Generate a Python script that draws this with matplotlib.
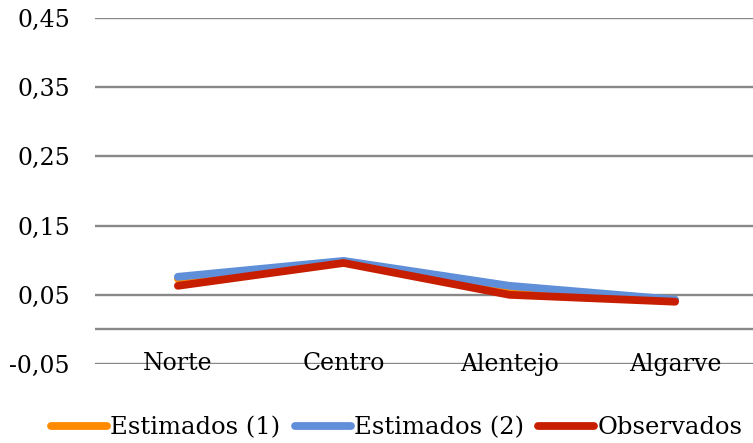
import matplotlib.pyplot as plt
import numpy as np

regioes = ["Norte", "Centro", "Alentejo", "Algarve"]
estimados_1 = [0.073, 0.098, 0.058, 0.042]
estimados_2 = [0.076, 0.099, 0.063, 0.043]
observados = [0.063, 0.096, 0.050, 0.040]
yticks = [-0.05, 0.05, 0.15, 0.25, 0.35, 0.45]

plt.rcParams['font.family'] = ['DejaVu Serif']
plt.rcParams['font.size'] = 17.5

fig = plt.figure(figsize=(7.53, 4.43), dpi=100)
ax = fig.add_axes([95 / 753, 79 / 443, 1 - 95 / 753, 346 / 443])

x = np.arange(len(regioes))
kw = dict(lw=5.6, solid_capstyle='round', solid_joinstyle='round')
ax.plot(x, estimados_1, color='#FF8A00', label='Estimados (1)', **kw)
ax.plot(x, estimados_2, color='#5E8FD8', label='Estimados (2)', **kw)
ax.plot(x, observados, color='#C81E00', label='Observados', **kw)

# grid lines at labelled values plus the category axis at zero
for y in yticks + [0.0]:
    ax.axhline(y, color='#888888', lw=1.7, zorder=0)

ax.set_xlim(-0.5, 3.47)
ax.set_ylim(-0.05, 0.45)
ax.set_yticks(yticks)
ax.set_yticklabels([f"{v:.2f}".replace('.', ',') for v in yticks], fontsize=17)
ax.tick_params(axis='y', length=0, pad=18)
ax.set_xticks([])
for s in ax.spines.values():
    s.set_visible(False)

for i, nome in enumerate(regioes):
    ax.text(i, -0.05, nome, ha='center', va='center', fontsize=17)

fig.legend(loc='center', bbox_to_anchor=(0.527, 0.034), ncol=3, frameon=False,
           handlelength=2.3, handletextpad=0.12, columnspacing=0.6,
           borderpad=0, borderaxespad=0)

plt.savefig("out.png", dpi=100)
